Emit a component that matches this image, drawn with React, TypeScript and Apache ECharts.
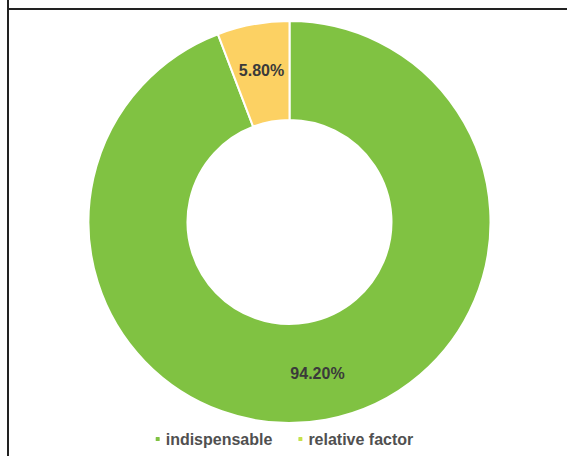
import React, { useEffect, useRef } from "react";
import * as echarts from "echarts";

const categories = ["indispensable", "relative factor"];
const values = [94.2, 5.8];
const sliceColors = ["#80c242", "#fcd163"];
const legendColors = ["#80c242", "#c6e24c"];

export default function App() {
  const ref = useRef<HTMLDivElement>(null);
  useEffect(() => {
    if (!ref.current) return;
    const chart = echarts.init(ref.current, null, { renderer: "svg" });
    chart.setOption({
      animation: false,
      backgroundColor: "#ffffff",
      legend: {
        top: 426,
        left: "center",
        icon: "roundRect",
        itemWidth: 6,
        itemHeight: 6,
        itemGap: 24,
        textStyle: {
          fontFamily: "Liberation Sans, Arial, sans-serif",
          fontSize: 16,
          fontWeight: "bold",
          color: "#505050",
        },
        data: categories.map((c, i) => ({
          name: c,
          itemStyle: { color: legendColors[i] },
        })),
      },
      graphic: [
        {
          type: "line",
          shape: { x1: 8, y1: 0, x2: 8, y2: 456 },
          style: { stroke: "#222", lineWidth: 2 },
        },
        {
          type: "line",
          shape: { x1: 7, y1: 9, x2: 567, y2: 9 },
          style: { stroke: "#222", lineWidth: 2 },
        },
      ],
      series: [
        {
          type: "pie",
          center: [289.5, 222],
          radius: [102, 201],
          startAngle: 90,
          clockwise: true,
          avoidLabelOverlap: false,
          itemStyle: { borderColor: "#ffffff", borderWidth: 2 },
          label: {
            show: true,
            position: "inside",
            formatter: (p: any) => p.value.toFixed(2) + "%",
            fontFamily: "Liberation Sans, Arial, sans-serif",
            fontSize: 16,
            fontWeight: "bold",
            color: "#3a3a3a",
          },
          labelLine: { show: false },
          emphasis: { disabled: true },
          data: categories.map((c, i) => ({
            name: c,
            value: values[i],
            itemStyle: { color: sliceColors[i] },
          })),
        },
      ],
    });
    return () => chart.dispose();
  }, []);
  return (
    <div
      ref={ref}
      style={{ position: "absolute", left: 0, top: 0, width: 567, height: 456 }}
    />
  );
}
